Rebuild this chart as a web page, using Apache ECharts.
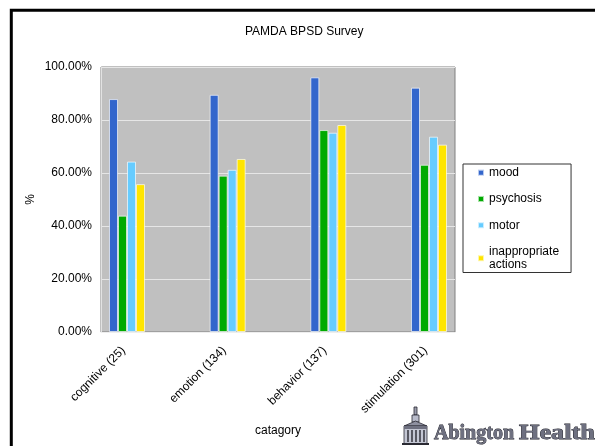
<!DOCTYPE html>
<html>
<head>
<meta charset="utf-8">
<title>PAMDA BPSD Survey</title>
<script src="https://cdn.jsdelivr.net/npm/echarts@6/dist/echarts.min.js"></script>
<style>
  html, body { margin: 0; padding: 0; background: #ffffff; }
  #chart { width: 595px; height: 446px; }
</style>
</head>
<body>
<div id="chart"></div>
<script>
// Survey categories (respondent counts in brackets)
var categories = ['cognitive (25)', 'emotion (134)', 'behavior (137)', 'stimulation (301)'];

// Share of respondents per symptom domain, in percent
var seriesNames = ['mood', 'psychosis', 'motor', 'inappropriate\nactions'];
var mood = [87.9, 89.5, 96.1, 92.2];
var psychosis = [43.9, 59.0, 76.2, 63.1];
var motor = [64.3, 61.2, 75.2, 73.7];
var inappropriate = [55.8, 65.3, 78.1, 70.7];

// Value axis ticks
var yMin = 0, yMax = 100, yStep = 20;

var values = [mood, psychosis, motor, inappropriate];
var colors = ['#3366cc', '#00aa00', '#66ccff', '#ffe500'];
var font = '"Liberation Sans", Arial, sans-serif';

var chart = echarts.init(document.getElementById('chart'), null, { renderer: 'canvas' });

var series = seriesNames.map(function (name, i) {
  return {
    name: name,
    type: 'bar',
    xAxisIndex: 1,
    yAxisIndex: 1,
    barWidth: 9,
    barGap: '0%',
    data: values[i],
    itemStyle: {
      color: colors[i],
      borderColor: 'rgba(255,255,255,0.65)',
      borderWidth: 1
    },
    emphasis: { disabled: true }
  };
});

chart.setOption({
  animation: false,
  textStyle: { fontFamily: font, color: '#000' },
  title: {
    text: 'PAMDA BPSD Survey',
    left: 245,
    top: 26,
    padding: 0,
    textStyle: { fontFamily: font, fontSize: 12, fontWeight: 'normal', color: '#000' }
  },
  legend: {
    orient: 'vertical',
    left: 463,
    top: 164,
    padding: [2, 12, 1, 14],
    itemWidth: 6,
    itemHeight: 6,
    itemGap: 13,
    icon: 'rect',
    data: seriesNames,
    borderColor: '#333',
    borderWidth: 1,
    backgroundColor: '#fff',
    textStyle: { fontFamily: font, fontSize: 12, lineHeight: 13.3, color: '#000' }
  },
  grid: [
    // plot frame: grey background, gridlines, value axis labels
    { left: 101, top: 67, width: 354, height: 265, show: true,
      backgroundColor: '#c0c0c0', borderColor: '#808080', borderWidth: 1 },
    // bar layer: one category centre per tick
    { left: 127, top: 67, width: 302, height: 265 }
  ],
  xAxis: [
    {
      gridIndex: 0,
      type: 'category',
      data: categories,
      axisLine: { show: true, lineStyle: { color: '#eeeeee', width: 1 } },
      axisTick: { show: false },
      axisLabel: { show: false },
      splitLine: { show: false }
    },
    {
      gridIndex: 1,
      type: 'category',
      data: categories,
      boundaryGap: false,
      axisLine: { show: false },
      axisTick: { show: false },
      splitLine: { show: false },
      axisLabel: {
        rotate: 45,
        margin: 13,
        padding: [0, 5, 0, 0],
        fontSize: 12,
        color: '#000',
        fontFamily: font
      },
      name: 'catagory',
      nameLocation: 'middle',
      nameGap: 93,
      nameTextStyle: { fontSize: 12, color: '#000', fontFamily: font }
    }
  ],
  yAxis: [
    {
      gridIndex: 0,
      type: 'value',
      min: yMin,
      max: yMax,
      interval: yStep,
      axisLine: { show: true, lineStyle: { color: '#e2e2e2', width: 1 } },
      axisTick: { show: false },
      axisLabel: {
        margin: 9,
        fontSize: 12,
        color: '#000',
        fontFamily: font,
        formatter: function (v) { return v.toFixed(2) + '%'; }
      },
      splitLine: { show: true, lineStyle: { color: '#e6e6e6', width: 1 } },
      name: '%',
      nameLocation: 'middle',
      nameGap: 64,
      nameMoveOverlap: false,
      nameTextStyle: { fontSize: 12, color: '#000', fontFamily: font }
    },
    {
      gridIndex: 1,
      type: 'value',
      min: yMin,
      max: yMax,
      interval: yStep,
      show: false
    }
  ],
  series: series,
  graphic: [
    // outer chart frame
    {
      type: 'rect',
      z: -10,
      silent: true,
      shape: { x: 11.3, y: 10.3, width: 800, height: 600 },
      style: { fill: 'none', stroke: '#000', lineWidth: 3 }
    },
    // organisation mark: building
    {
      type: 'group',
      x: 402,
      y: 406,
      silent: true,
      children: [
        { type: 'rect', shape: { x: 12, y: 1, width: 3, height: 8 },
          style: { fill: '#9a9cab', stroke: '#2a2a33', lineWidth: 0.8 } },
        { type: 'rect', shape: { x: 10, y: 9, width: 7, height: 7 },
          style: { fill: '#b9bccb', stroke: '#2a2a33', lineWidth: 0.8 } },
        { type: 'polygon', shape: { points: [[2, 20], [13.5, 15], [25, 20]] },
          style: { fill: '#8e90a0', stroke: '#2a2a33', lineWidth: 0.8 } },
        { type: 'rect', shape: { x: 2, y: 20, width: 23, height: 18 },
          style: { fill: '#c4c7d4', stroke: '#2a2a33', lineWidth: 0.8 } },
        { type: 'rect', shape: { x: 2, y: 20, width: 23, height: 3 },
          style: { fill: '#6e7080' } },
        { type: 'line', shape: { x1: 6, y1: 24, x2: 6, y2: 36 }, style: { stroke: '#2a2a33', lineWidth: 1.4 } },
        { type: 'line', shape: { x1: 10, y1: 24, x2: 10, y2: 36 }, style: { stroke: '#2a2a33', lineWidth: 1.4 } },
        { type: 'line', shape: { x1: 14, y1: 24, x2: 14, y2: 36 }, style: { stroke: '#2a2a33', lineWidth: 1.4 } },
        { type: 'line', shape: { x1: 18, y1: 24, x2: 18, y2: 36 }, style: { stroke: '#2a2a33', lineWidth: 1.4 } },
        { type: 'line', shape: { x1: 22, y1: 24, x2: 22, y2: 36 }, style: { stroke: '#2a2a33', lineWidth: 1.4 } },
        { type: 'rect', shape: { x: 0, y: 37, width: 27, height: 2 }, style: { fill: '#2a2a33' } }
      ]
    },
    // organisation mark: name
    {
      type: 'text',
      x: 434,
      y: 444,
      silent: true,
      style: {
        text: 'Abington',
        font: 'bold 20px "Liberation Serif", "DejaVu Serif", serif',
        fill: '#6e7080',
        stroke: '#22222a',
        lineWidth: 0.8,
        verticalAlign: 'bottom'
      }
    },
    {
      type: 'text',
      x: 519,
      y: 444,
      scaleX: 1.25,
      silent: true,
      style: {
        text: 'Health',
        font: 'bold 21px "Liberation Serif", "DejaVu Serif", serif',
        fill: '#6e7080',
        stroke: '#22222a',
        lineWidth: 0.8,
        verticalAlign: 'bottom'
      }
    }
  ]
});
</script>
</body>
</html>
